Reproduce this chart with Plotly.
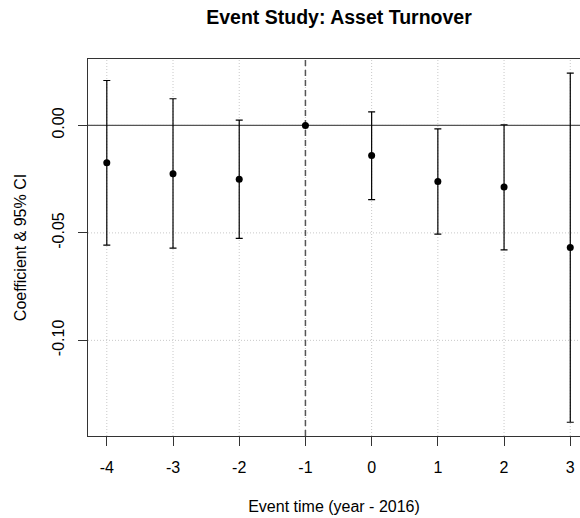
import plotly.graph_objects as go

event_time = [-4, -3, -2, -1, 0, 1, 2, 3]
coef = [-0.0174, -0.0225, -0.0250, 0.0, -0.0140, -0.0261, -0.0286, -0.0568]
ci_low = [-0.0557, -0.0571, -0.0526, 0.0, -0.0345, -0.0506, -0.0579, -0.1381]
ci_high = [0.0209, 0.0124, 0.0025, 0.0, 0.0063, -0.0016, 0.0003, 0.0243]
x_tick_vals = [-4, -3, -2, -1, 0, 1, 2, 3]
x_tick_text = ["-4", "-3", "-2", "-1", "0", "1", "2", "3"]
y_tick_vals = [-0.10, -0.05, 0.00]
y_tick_text = ["-0.10", "-0.05", "0.00"]
ref_event = -1

FONT = "Liberation Sans, Arial, Helvetica, sans-serif"
GRID = dict(color="#c8c8c8", width=1, dash="1px,2px")

err_plus = [(h - c) if (h - l) > 0 else None for c, l, h in zip(coef, ci_low, ci_high)]
err_minus = [(c - l) if (h - l) > 0 else None for c, l, h in zip(coef, ci_low, ci_high)]

fig = go.Figure()
fig.add_trace(go.Scatter(
    x=event_time, y=coef, mode="markers",
    marker=dict(color="black", size=7),
    error_y=dict(type="data", symmetric=False, array=err_plus, arrayminus=err_minus,
                 color="black", thickness=1.2, width=3.5),
    showlegend=False, hoverinfo="skip", cliponaxis=False,
))

# dotted grid (drawn as shapes so reference lines sit on top of it)
for xv in x_tick_vals:
    fig.add_vline(x=xv, line=GRID, layer="below")
for yv in y_tick_vals:
    fig.add_hline(y=yv, line=GRID, layer="below")

fig.add_hline(y=0, line=dict(color="#555555", width=1.3), layer="below")
fig.add_vline(x=ref_event, line=dict(color="#555555", width=1.5, dash="6px,4px"), layer="below")

fig.update_layout(
    width=580, height=518,
    margin=dict(l=88, r=0, t=59, b=82, autoexpand=False),
    paper_bgcolor="white", plot_bgcolor="white",
    font=dict(family=FONT, size=16, color="black"),
    title=dict(text="<b>Event Study: Asset Turnover</b>", x=339/580, xref="container",
               xanchor="center", y=1 - 17/518, yref="container", yanchor="middle",
               font=dict(size=19.5, family=FONT, color="black")),
    xaxis=dict(
        range=[-4.284, 3.147], tickmode="array", tickvals=x_tick_vals, ticktext=x_tick_text,
        showline=True, linecolor="#333333", linewidth=1.2, mirror=True,
        ticks="outside", ticklen=9, tickcolor="#333333", tickwidth=1.2,
        showgrid=False, zeroline=False, ticklabelstandoff=8, automargin=False,
        title=dict(text="Event time (year - 2016)", standoff=25, font=dict(size=16)),
        tickfont=dict(size=16),
    ),
    yaxis=dict(
        range=[-0.1445, 0.0309], tickmode="array", tickvals=y_tick_vals, ticktext=y_tick_text,
        showline=True, linecolor="#333333", linewidth=1.2, mirror=False,
        ticks="outside", ticklen=9, tickcolor="#333333", tickwidth=1.2,
        showgrid=False, zeroline=False, tickangle=-90, ticklabelstandoff=8, automargin=False,
        title=dict(text="Coefficient & 95% CI", standoff=18, font=dict(size=16)),
        tickfont=dict(size=16),
    ),
)

fig.write_html("out.html", config={"displayModeBar": False},
               post_script="document.body.style.margin='0';document.body.style.padding='0';")
